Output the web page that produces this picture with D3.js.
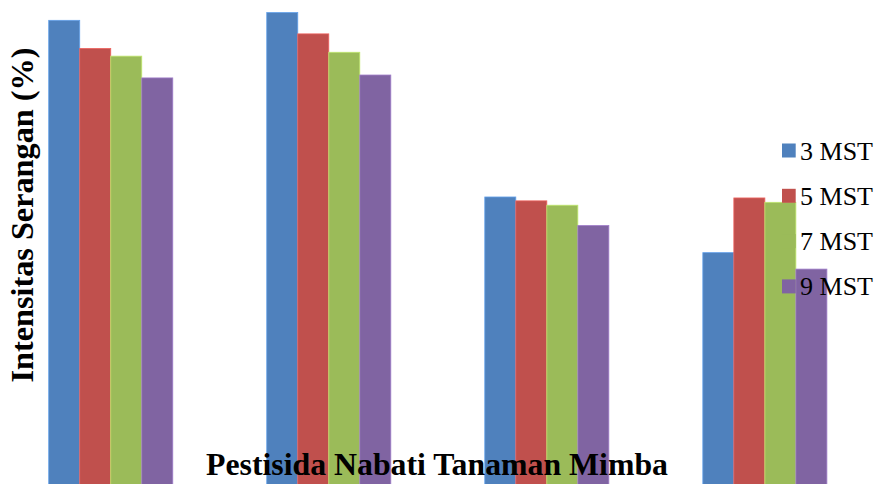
<!DOCTYPE html>
<html>
<head>
<meta charset="utf-8">
<script src="https://cdn.jsdelivr.net/npm/d3@7"></script>
<style>
  html, body { margin: 0; padding: 0; background: #fff; }
  svg { display: block; }
</style>
</head>
<body>
<svg id="chart" width="878" height="484"></svg>
<script>
// ---- data (y-axis has no ticks, so values are estimated in %) ----
const categories = ["Perlakuan 1", "Perlakuan 2", "Perlakuan 3", "Perlakuan 4"];
const seriesNames = ["3 MST", "5 MST", "7 MST", "9 MST"];
const values3MST = [47.9, 48.7, 29.65, 23.9];
const values5MST = [45.0, 46.5, 29.25, 29.55];
const values7MST = [44.2, 44.6, 28.8, 29.1];
const values9MST = [41.95, 42.25, 26.7, 22.2];
const seriesValues = [values3MST, values5MST, values7MST, values9MST];
const colors = ["#4F81BD", "#C0504D", "#9BBB59", "#8064A2"];
const yTitle = "Intensitas Serangan (%)";
const xTitle = "Pestisida Nabati Tanaman Mimba";

const svg = d3.select("#chart");

const x0 = d3.scaleBand()
  .domain(categories)
  .range([1.7, 873.9])
  .paddingInner(0.431)
  .paddingOuter(0.2156);

const x1 = d3.scaleBand()
  .domain(seriesNames)
  .range([0, x0.bandwidth()]);

const y = d3.scaleLinear()
  .domain([0, 50])
  .range([484, 0]);

const rows = categories.map((c, i) => ({
  cat: c,
  vals: seriesNames.map((s, j) => ({ s, j, v: seriesValues[j][i] }))
}));

const g = svg.append("g")
  .selectAll("g")
  .data(rows)
  .join("g")
  .attr("transform", d => `translate(${x0(d.cat)},0)`);

g.selectAll("rect")
  .data(d => d.vals)
  .join("rect")
  .attr("x", d => x1(d.s))
  .attr("y", d => y(d.v))
  .attr("width", x1.bandwidth())
  .attr("height", d => y(0) - y(d.v) + 10)
  .attr("fill", d => colors[d.j])
  .attr("stroke", d => d3.color(colors[d.j]).brighter(0.6))
  .attr("stroke-width", 0.8);

// y title
svg.append("text")
  .attr("transform", "translate(33,215) rotate(-90)")
  .attr("text-anchor", "middle")
  .attr("font-family", "'Liberation Serif', 'Times New Roman', serif")
  .attr("font-weight", "bold")
  .attr("font-size", 32)
  .attr("textLength", 335)
  .attr("lengthAdjust", "spacingAndGlyphs")
  .attr("fill", "#000")
  .text(yTitle);

// x title
svg.append("text")
  .attr("x", 437)
  .attr("y", 475)
  .attr("text-anchor", "middle")
  .attr("font-family", "'Liberation Serif', 'Times New Roman', serif")
  .attr("font-weight", "bold")
  .attr("font-size", 32)
  .attr("textLength", 462)
  .attr("lengthAdjust", "spacingAndGlyphs")
  .attr("fill", "#000")
  .text(xTitle);

// legend
const legend = svg.append("g").attr("transform", "translate(782,143.5)");
const li = legend.selectAll("g")
  .data(seriesNames)
  .join("g")
  .attr("transform", (d, i) => `translate(0,${i * 45.3})`);
li.append("rect")
  .attr("width", 13.7)
  .attr("height", 14)
  .attr("fill", (d, i) => colors[i]);
li.append("text")
  .attr("x", 18)
  .attr("y", 16)
  .attr("font-family", "'Liberation Serif', 'Times New Roman', serif")
  .attr("font-size", 24.5)
  .attr("textLength", 73)
  .attr("lengthAdjust", "spacingAndGlyphs")
  .attr("fill", "#000")
  .text(d => d);
</script>
</body>
</html>
